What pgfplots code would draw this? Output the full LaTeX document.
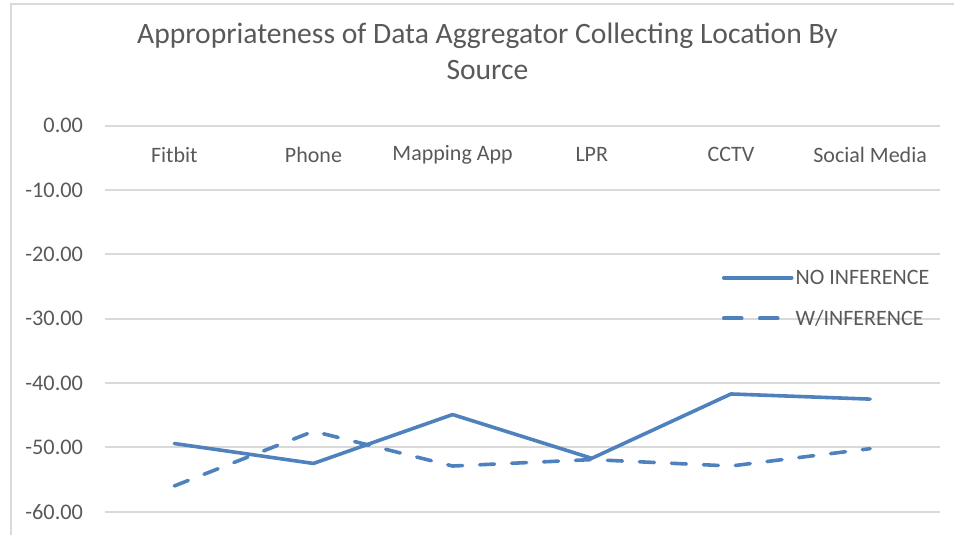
\documentclass[border=0pt]{standalone}
\usepackage{pgfplots}
\pgfplotsset{compat=1.18}
\usepackage{fontspec}
\setmainfont{Carlito}
\definecolor{lineblue}{RGB}{79,129,189}
\definecolor{gridgray}{RGB}{217,217,217}
\definecolor{txtgray}{RGB}{89,89,89}
\begin{document}
\begin{tikzpicture}
\useasboundingbox (0,0) rectangle (954pt,535pt);
\draw[gridgray, line width=2pt] (10.5pt,0pt) -- (10.5pt,531pt) -- (954pt,531pt);
\begin{axis}[
  at={(104.7pt,23.3pt)}, anchor=south west,
  scale only axis, width=835pt, height=386pt,
  xmin=-0.5, xmax=5.5, ymin=-60, ymax=0,
  xtick={0,1,2,3,4,5},
  xticklabels={Fitbit,Phone,Mapping App,LPR,CCTV,Social Media},
  xticklabel pos=upper,
  xticklabel style={anchor=center, yshift=-29pt, font=\fontsize{22}{26}\selectfont, text=txtgray},
  ytick={-60,-50,-40,-30,-20,-10,0},
  yticklabel style={anchor=east, inner sep=0pt, xshift=-21.5pt, font=\fontsize{22.3}{26}\selectfont, text=txtgray},
  /pgf/number format/.cd, fixed, fixed zerofill, precision=2, assume math mode=true,
  /pgfplots/.cd,
  major tick length=0pt,
  axis line style={draw=none},
  ymajorgrids, grid style={gridgray, line width=2pt},
  title={Appropriateness of Data Aggregator Collecting Location By\\Source},
  title style={at={(0.4584,1)}, anchor=center, yshift=68.2pt, align=center, font=\fontsize{29.6}{35.5}\selectfont, text=txtgray},
  legend style={draw=none, fill=none, at={(0.739,0.553)}, anchor=west, inner sep=0pt,
    font=\fontsize{22}{26}\selectfont, text=txtgray, row sep=20pt},
  legend cell align=left,
  legend image code/.code={\draw[#1] (0pt,0pt) -- (68pt,0pt);},
  clip=false,
]
\addplot[lineblue, line width=3.6pt, line cap=round, line join=round]
  coordinates {(0,-49.4) (1,-52.5) (2,-44.9) (3,-51.7) (4,-41.7) (5,-42.5)};
\addlegendentry{NO INFERENCE}
\addplot[lineblue, line width=3.6pt, line cap=round, line join=round, dash pattern=on 15pt off 17pt,
  legend image post style={dash pattern=on 18pt off 18pt}]
  coordinates {(0,-56.0) (1,-47.5) (2,-52.9) (3,-51.9) (4,-52.9) (5,-50.2)};
\addlegendentry{W/INFERENCE}
\end{axis}
\end{tikzpicture}
\end{document}
